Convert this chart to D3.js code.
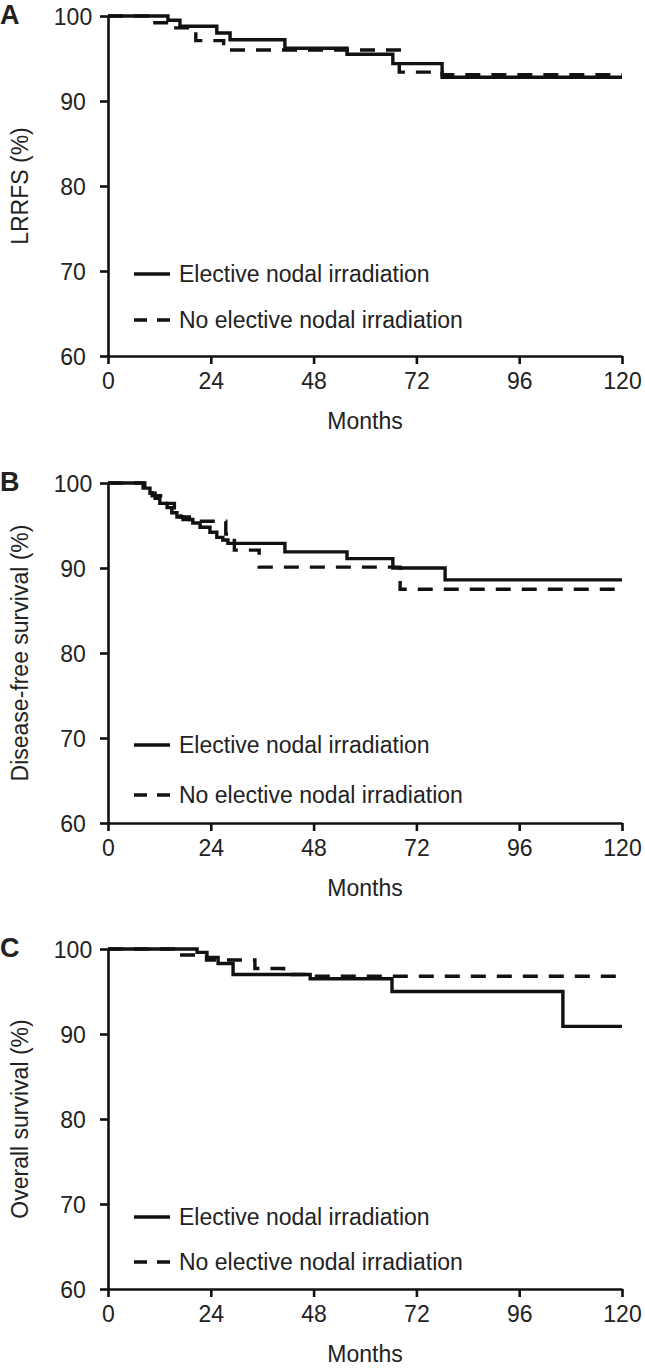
<!DOCTYPE html>
<html><head><meta charset="utf-8">
<script src="https://cdn.jsdelivr.net/npm/d3@7"></script>
<style>
body{margin:0;background:#fff;}
text{font-family:"Liberation Sans",Arial,Helvetica,sans-serif;fill:#222;}
</style>
</head><body>
<svg id="chart" width="645" height="1368"></svg>
<script>
// ---------- data ----------
const panelLetters = ["A", "B", "C"];
const yTitles = ["LRRFS (%)", "Disease-free survival (%)", "Overall survival (%)"];
const xTicks = [0, 24, 48, 72, 96, 120];
const yTicks = [60, 70, 80, 90, 100];
const xLabel = "Months";
const legendLabels = ["Elective nodal irradiation", "No elective nodal irradiation"];

// Panel A: locoregional recurrence-free survival
const aEniMonths = [0, 14, 16.8, 25.4, 28.5, 41.3, 55.8, 66.5, 78, 120];
const aEniSurv   = [100, 99.5, 98.8, 98.0, 97.2, 96.2, 95.5, 94.4, 92.8, 92.8];
const aNoMonths  = [0, 10.3, 14.5, 20.5, 27, 68, 78, 120];
const aNoSurv    = [100, 99.2, 98.6, 97.1, 96.0, 93.4, 93.1, 93.1];

// Panel B: disease-free survival
const bEniMonths = [0, 8.2, 9.8, 11, 12.1, 13.8, 14.9, 16.1, 17.5, 19.8, 21.5, 23.8, 25.4, 26.8, 28, 41.3, 55.8, 66.5, 78.7, 120];
const bEniSurv   = [100, 99.4, 98.8, 98.2, 97.6, 97.1, 96.5, 96.0, 95.7, 95.3, 94.8, 94.2, 93.6, 93.3, 92.9, 91.9, 91.1, 90.0, 88.6, 88.6];
const bNoMonths  = [0, 8.6, 10.3, 12.8, 15.5, 17, 19, 21, 27.5, 29.5, 35.3, 68.2, 120];
const bNoSurv    = [100, 99.3, 98.5, 97.6, 96.4, 96.0, 95.7, 95.5, 94.0, 92.1, 90.1, 87.5, 87.5];

// Panel C: overall survival
const cEniMonths = [0, 20.8, 23.1, 25.7, 29.2, 47.2, 66.3, 106.2, 120];
const cEniSurv   = [100, 99.6, 99.0, 98.3, 97.0, 96.5, 95.0, 90.9, 90.9];
const cNoMonths  = [0, 16.1, 23, 34.3, 41, 46.5, 120];
const cNoSurv    = [100, 99.3, 98.7, 97.7, 97.0, 96.8, 96.8];

const seriesMonths = [[aEniMonths, aNoMonths], [bEniMonths, bNoMonths], [cEniMonths, cNoMonths]];
const seriesSurv   = [[aEniSurv, aNoSurv], [bEniSurv, bNoSurv], [cEniSurv, cNoSurv]];

// ---------- layout ----------
const svg = d3.select("#chart");
svg.append("rect").attr("width", 645).attr("height", 1368).attr("fill", "#fff");

const plotLeft = 108, plotRight = 622, plotH = 340;
const panelTops = [16, 483, 949];
const legendYs = [[274, 320], [745, 795], [1217, 1262]];
const fs = 23;

const x = d3.scaleLinear().domain([0, 120]).range([plotLeft, plotRight]);

panelTops.forEach((top, i) => {
  const y = d3.scaleLinear().domain([60, 100]).range([top + plotH, top]);
  const g = svg.append("g");

  // y axis
  const ya = g.append("g").attr("transform", `translate(${plotLeft},0)`)
    .call(d3.axisLeft(y).tickValues(yTicks).tickSize(8).tickSizeOuter(0).tickPadding(0));
  ya.select(".domain").attr("stroke", "#111").attr("stroke-width", 2.6);
  ya.selectAll(".tick line").attr("stroke", "#111").attr("stroke-width", 2.6);
  ya.selectAll(".tick text").attr("x", -35).attr("text-anchor", "middle")
    .attr("font-size", fs).attr("dy", "0.36em").style("font-family", '"Liberation Sans",Arial,sans-serif').attr("fill", "#222");

  // x axis
  const xa = g.append("g").attr("transform", `translate(0,${top + plotH})`)
    .call(d3.axisBottom(x).tickValues(xTicks).tickSize(8).tickSizeOuter(0).tickPadding(9));
  xa.select(".domain").attr("stroke", "#111").attr("stroke-width", 2.6);
  xa.selectAll(".tick line").attr("stroke", "#111").attr("stroke-width", 2.6);
  xa.selectAll(".tick text").attr("font-size", fs).style("font-family", '"Liberation Sans",Arial,sans-serif').attr("fill", "#222");

  // x label
  g.append("text").attr("x", (plotLeft + plotRight) / 2).attr("y", top + plotH + 73)
    .attr("text-anchor", "middle").attr("font-size", fs).text(xLabel);

  // y title
  g.append("text").attr("transform", `translate(28,${top + plotH / 2}) rotate(-90)`)
    .attr("text-anchor", "middle").attr("font-size", fs).text(yTitles[i]);

  // panel letter
  g.append("text").attr("x", 0).attr("y", top + 8).attr("font-size", 27)
    .attr("font-weight", "bold").attr("fill", "#111").text(panelLetters[i]);

  // curves
  const line = d3.line().curve(d3.curveStepAfter).x(d => x(d[0])).y(d => y(d[1]));
  [1, 0].forEach(k => {
    const pts = seriesMonths[i][k].map((m, j) => [m, seriesSurv[i][k][j]]);
    g.append("path").attr("d", line(pts)).attr("fill", "none")
      .attr("stroke", "#111").attr("stroke-width", 3.4)
      .attr("stroke-dasharray", k === 1 ? "15,11" : null);
  });

  // legend
  legendYs[i].forEach((ly, k) => {
    g.append("line").attr("x1", 134).attr("x2", 170).attr("y1", ly).attr("y2", ly)
      .attr("stroke", "#111").attr("stroke-width", 3.4)
      .attr("stroke-dasharray", k === 1 ? "13,10" : null);
    g.append("text").attr("x", 179).attr("y", ly).attr("dy", "0.36em")
      .attr("font-size", fs).text(legendLabels[k]);
  });
});
</script>
</body></html>
